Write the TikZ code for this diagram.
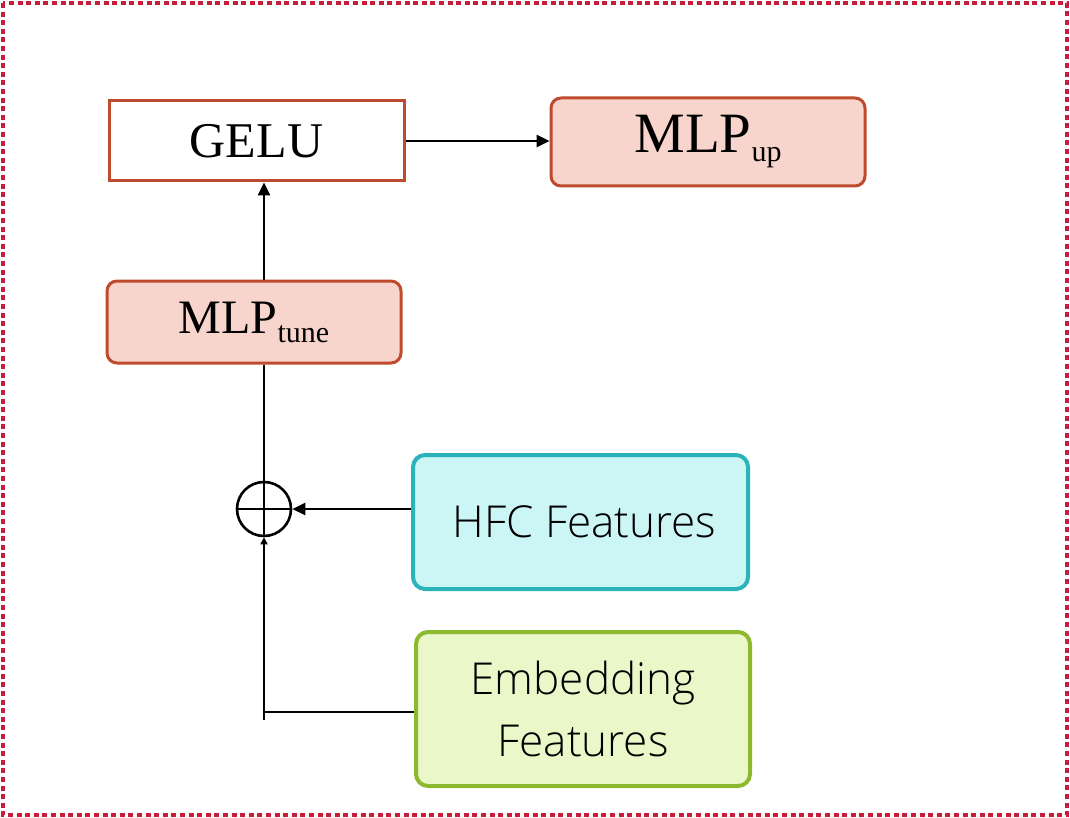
\documentclass[tikz,border=0pt]{standalone}
\usepackage{fontspec}
\setmainfont{Liberation Serif}
\IfFontExistsTF{Open Sans Light}{\newfontfamily\sansf{Open Sans Light}}{\newfontfamily\sansf{Open Sans}}
\usetikzlibrary{arrows.meta}
\definecolor{bordred}{HTML}{C41E3A}
\definecolor{rust}{HTML}{BE4B2D}
\definecolor{pinkfill}{HTML}{F8D5CC}
\definecolor{teal}{HTML}{2BB3BA}
\definecolor{cyanfill}{HTML}{CCF5F5}
\definecolor{lgreen}{HTML}{8DB92E}
\definecolor{greenfill}{HTML}{EAF7C8}
\tikzset{
  box/.style={draw=rust, line width=3pt, inner sep=0pt},
  rbox/.style={box, fill=pinkfill, rounded corners=10pt},
  sbox/.style={line width=4pt, rounded corners=12pt, inner sep=0pt, align=center, font=\sansf\fontsize{44}{62}\selectfont},
  conn/.style={line width=2.6pt, black},
  arr/.style={conn, -{Triangle[length=13pt,width=12pt]}},
  sarr/.style={conn, -{Triangle[length=7pt,width=7pt]}},
}
\newcommand{\subtxt}[1]{\raisebox{-9pt}{\fontsize{30}{30}\selectfont #1}}
\begin{document}
\begin{tikzpicture}[x=1pt,y=-1pt]
\useasboundingbox (0,0) rectangle (1070,818);
\draw[bordred, line width=4pt, dash pattern=on 5pt off 3.6pt] (3,3) rectangle (1067,815);
\node[box, minimum width=295pt, minimum height=80pt, font=\fontsize{50}{50}\selectfont] (gelu) at (256.5,141) {GELU};
\node[rbox, minimum width=314pt, minimum height=88pt, font=\fontsize{57}{57}\selectfont] (mlpup) at (708,142) {MLP\subtxt{up}};
\node[rbox, minimum width=294pt, minimum height=82pt, font=\fontsize{48}{48}\selectfont] (mlptune) at (254,322) {MLP\subtxt{tune}};
\node[draw, circle, line width=2.6pt, minimum size=54pt, inner sep=0pt] (plus) at (264,509) {};
\draw[conn] (plus.north) -- (plus.south) (plus.west) -- (plus.east);
\node[sbox, draw=teal, fill=cyanfill, minimum width=335pt, minimum height=134pt] (hfc) at (580.5,522) {\hspace*{8pt}HFC Features};
\node[sbox, draw=lgreen, fill=greenfill, minimum width=334pt, minimum height=154pt] (emb) at (583,709) {Embedding\\Features};
\coordinate (corner) at (264,712);
\coordinate (tail) at (264,720);
\draw[conn] (mlptune.south -| plus.north) -- (plus.north);
\draw[arr] (mlptune.north -| 264,0) -- (gelu.south -| 264,0);
\draw[arr] (gelu.east) -- (mlpup.west |- gelu.east);
\draw[arr] (hfc.west |- plus.east) -- (plus.east);
\draw[conn] (emb.west |- corner) -- (corner);
\draw[sarr] (tail) -- (plus.south);
\end{tikzpicture}
\end{document}
